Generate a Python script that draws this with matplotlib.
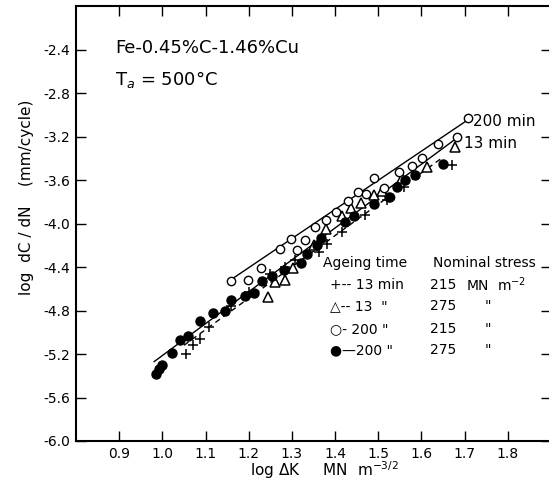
import numpy as np
import matplotlib.pyplot as plt

plt.rcParams['font.family'] = ['DejaVu Sans']
plt.rcParams['axes.unicode_minus'] = False

# ageing 13 min, 215 MN/m^2  (+)
plus_x = [1.054, 1.070, 1.087, 1.108, 1.160, 1.200, 1.250, 1.285, 1.308, 1.362,
          1.381, 1.416, 1.470, 1.520, 1.560, 1.670]
plus_y = [-5.20, -5.12, -5.06, -4.95, -4.76, -4.63, -4.46, -4.40, -4.34, -4.26,
          -4.19, -4.08, -3.92, -3.78, -3.66, -3.46]

# ageing 13 min, 275 MN/m^2  (triangle)
tri_x = [1.245, 1.260, 1.283, 1.302, 1.350, 1.378, 1.416, 1.436, 1.460, 1.490,
         1.508, 1.555, 1.613, 1.678]
tri_y = [-4.68, -4.54, -4.52, -4.41, -4.20, -4.05, -3.93, -3.86, -3.81, -3.74,
         -3.70, -3.58, -3.48, -3.30]

# ageing 200 min, 215 MN/m^2  (open circle)
open_x = [1.158, 1.199, 1.229, 1.273, 1.298, 1.312, 1.330, 1.354, 1.380, 1.403,
          1.431, 1.453, 1.471, 1.491, 1.514, 1.528, 1.548, 1.578, 1.601, 1.639,
          1.682, 1.708]
open_y = [-4.53, -4.52, -4.41, -4.23, -4.14, -4.24, -4.15, -4.03, -3.97, -3.89,
          -3.79, -3.71, -3.73, -3.58, -3.67, -3.76, -3.53, -3.47, -3.40, -3.27,
          -3.20, -3.03]

# ageing 200 min, 275 MN/m^2  (filled circle)
fill_x = [0.985, 0.992, 1.000, 1.022, 1.040, 1.060, 1.087, 1.118, 1.144, 1.160,
          1.191, 1.212, 1.231, 1.254, 1.281, 1.322, 1.336, 1.358, 1.368, 1.424,
          1.443, 1.490, 1.524, 1.543, 1.562, 1.585, 1.650]
fill_y = [-5.38, -5.34, -5.30, -5.19, -5.07, -5.03, -4.90, -4.82, -4.80, -4.70,
          -4.67, -4.64, -4.53, -4.48, -4.43, -4.36, -4.28, -4.20, -4.13, -3.99,
          -3.93, -3.82, -3.76, -3.66, -3.60, -3.55, -3.45]

# fitted lines (end points)
fit_upper_x = [1.165, 1.710]
fit_upper_y = [-4.50, -3.04]
fit_lower_x = [0.981, 1.680]
fit_lower_y = [-5.27, -3.22]
fit_dash_x = [1.050, 1.650]
fit_dash_y = [-5.12, -3.39]

xticks = [0.9, 1.0, 1.1, 1.2, 1.3, 1.4, 1.5, 1.6, 1.7, 1.8]
yticks = [-6.0, -5.6, -5.2, -4.8, -4.4, -4.0, -3.6, -3.2, -2.8, -2.4]

legend_ages = ['+-- 13 min', '\u25b3-- 13  "', '\u25cb- 200 "', '\u25cf\u2014200 "']
legend_stress = ['215', '275', '215', '275']

fig = plt.figure(figsize=(5.49, 4.87), dpi=100)
ax = fig.add_axes([76 / 549, 46 / 487, 475 / 549, 435 / 487])

ax.plot(fit_upper_x, fit_upper_y, color='k', lw=1.0)
ax.plot(fit_lower_x, fit_lower_y, color='k', lw=1.0)
ax.plot(fit_dash_x, fit_dash_y, color='k', lw=1.0, ls=(0, (4, 3)))

ax.plot(plus_x, plus_y, ls='none', marker='+', ms=7, mew=1.1, color='k')
ax.plot(tri_x, tri_y, ls='none', marker='^', ms=7.5, mfc='white', mec='k', mew=1.1)
ax.plot(open_x, open_y, ls='none', marker='o', ms=6, mfc='white', mec='k', mew=1.0)
ax.plot(fill_x, fill_y, ls='none', marker='o', ms=6.5, color='k')

ax.set_xlim(0.8, 1.9)
ax.set_ylim(-6.0, -2.0)
ax.set_xticks(xticks)
ax.set_xticklabels(['%.1f' % v for v in xticks])
ax.set_yticks(yticks)
ax.set_yticklabels(['%.1f' % v for v in yticks])
ax.tick_params(direction='in', length=7, width=1.0, top=True, right=True,
               labelsize=10, pad=4)
for s in ax.spines.values():
    s.set_linewidth(1.5)

fig.text(27 / 549, 1 - 197 / 487, 'log  dC / dN    (mm/cycle)', rotation=90,
         ha='center', va='center', fontsize=11)
fig.text(324 / 549, 1 - 470 / 487, r'log $\Delta$K     MN  m$^{-3/2}$',
         ha='center', va='center', fontsize=11)

ax.text(0.082, 0.903, 'Fe-0.45%C-1.46%Cu', transform=ax.transAxes,
        fontsize=13, va='center', ha='left')
ax.text(0.082, 0.83, r'T$_a$ = 500°C', transform=ax.transAxes,
        fontsize=13, va='center', ha='left')

ax.text(0.836, 0.7356, '200 min', transform=ax.transAxes, fontsize=11, va='center')
ax.text(0.817, 0.683, '13 min', transform=ax.transAxes, fontsize=11, va='center')

# legend block
ax.text(0.52, 0.409, 'Ageing time', transform=ax.transAxes, fontsize=10, va='center')
ax.text(0.752, 0.409, 'Nominal stress', transform=ax.transAxes, fontsize=10, va='center')
rows_y = [0.3586, 0.310, 0.2575, 0.209]
for i, yy in enumerate(rows_y):
    ax.text(0.535, yy, legend_ages[i], transform=ax.transAxes, fontsize=10, va='center')
    ax.text(0.745, yy, legend_stress[i], transform=ax.transAxes, fontsize=10, va='center')
    if i == 0:
        ax.text(0.82, yy, r'MN  m$^{-2}$', transform=ax.transAxes, fontsize=10, va='center')
    else:
        ax.text(0.86, yy, '"', transform=ax.transAxes, fontsize=10, va='center')

fig.savefig('out.png', dpi=100)
